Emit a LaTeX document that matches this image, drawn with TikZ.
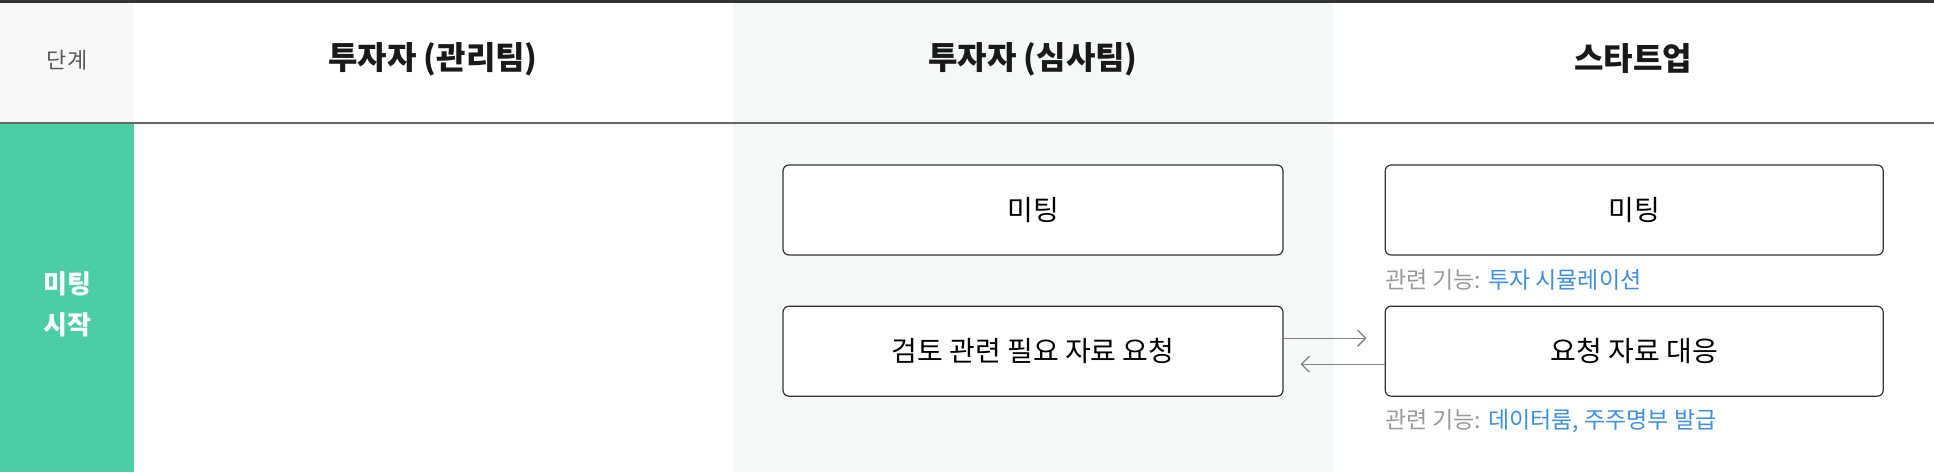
\documentclass[tikz,border=0pt]{standalone}
\usepackage{fontspec}
\setmainfont{Noto Sans CJK KR}
\usepackage{xcolor}
\usepackage{tikz}
\usetikzlibrary{arrows.meta, positioning}

\definecolor{stagegreen}{HTML}{4BCDA5}
\definecolor{headgray}{HTML}{F7F8F8}
\definecolor{lanegray}{HTML}{F4F8F7}
\definecolor{linkblue}{HTML}{3C8FE2}
\definecolor{notegray}{HTML}{999999}

\begin{document}
\begin{tikzpicture}[
        x=0.5pt, y=-0.5pt,
        node distance=25pt and 50.5pt,
        header/.style={font=\fontsize{16}{19}\selectfont\bfseries, text=black!90},
        stage/.style={font=\fontsize{13}{20.5}\selectfont\bfseries, text=white, align=center},
        task/.style={rectangle, draw=black!80, fill=white, line width=0.6pt, rounded corners=3pt, minimum width=250pt, minimum height=45pt, font=\fontsize{14}{16}\selectfont},
        note/.style={anchor=west, inner sep=0pt, font=\fontsize{11.5}{13}\selectfont, text=notegray},
        flow/.style={-{Straight Barb[length=4pt, width=8pt]}, line width=0.65pt, draw=black!50},
    ]
        \useasboundingbox (0,0) rectangle (1934,472);

        % Lane backgrounds
        \fill[headgray] (0,0) rectangle (134,123);
        \fill[stagegreen] (0,123) rectangle (134,472);
        \fill[lanegray] (733,0) rectangle (1333,472);
        \fill[black!80] (0,0) rectangle (1934,3);
        \draw[black!60, line width=0.6pt] (0,123) -- (1934,123);

        % Header
        \node[font=\fontsize{11}{13}\selectfont, text=black!65] (steplabel) at (67,60) {단계};
        \node[header] (mgmt) at (433,59) {투자자 (관리팀)};
        \node[header] (review) at (1033,59) {투자자 (심사팀)};
        \node[header] (startup) at (1633,59) {스타트업};

        % Stage
        \node[stage] (stagename) at (67,304) {미팅\\시작};

        % Investor (review team)
        \node[task] (meetinv) at (1033,210) {미팅};
        \node[task, below=of meetinv] (request) {검토 관련 필요 자료 요청};

        % Startup
        \node[task, minimum width=249pt, right=of meetinv] (meetsu) {미팅};
        \node[task, minimum width=249pt, right=of request] (respond) {요청 자료 대응};

        % Related features
        \node[note] (featsim) at ([yshift=-12pt]meetsu.south west) {관련 기능: \textcolor{linkblue}{투자 시뮬레이션}};
        \node[note] (featroom) at ([yshift=-12pt]respond.south west) {관련 기능: \textcolor{linkblue}{데이터룸, 주주명부 발급}};

        % Arrows
        \draw[flow, shorten >=9pt] ([yshift=6.5pt]request.east) -- ([yshift=6.5pt]respond.west);
        \draw[flow, shorten >=8.5pt] ([yshift=-6.5pt]respond.west) -- ([yshift=-6.5pt]request.east);
    \end{tikzpicture}
\end{document}
